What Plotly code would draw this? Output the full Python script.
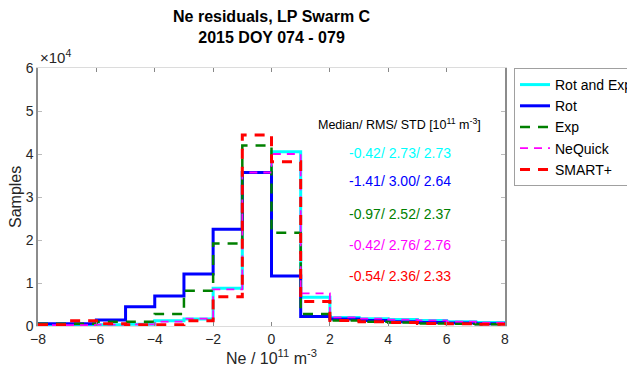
import plotly.graph_objects as go

edges = list(range(-8, 9))
rot_and_exp = [200, 200, 300, 400, 1200, 1600, 8800, 35700, 40500, 6700, 2000, 1700, 1500, 1300, 1000, 800]
rot = [500, 500, 1400, 4500, 7000, 12100, 22500, 35700, 11600, 2200, 1600, 1300, 1000, 800, 700, 500]
exp_ = [500, 500, 1000, 1000, 2800, 8200, 19200, 42000, 21700, 2800, 1300, 1000, 800, 600, 500, 400]
nequick = [200, 200, 300, 400, 1000, 1700, 8500, 35700, 40000, 7600, 2000, 1700, 1500, 1300, 1000, 800]
smart = [300, 1200, 500, 300, 300, 1200, 6800, 44400, 38200, 5700, 1300, 1000, 800, 600, 500, 400]

title_text = "<b>Ne residuals, LP Swarm C<br>2015 DOY 074 - 079</b>"
stats_header = "Median/ RMS/ STD [10<sup>11</sup> m<sup>-3</sup>]"
stats = ["-0.42/ 2.73/ 2.73", "-1.41/ 3.00/ 2.64", "-0.97/ 2.52/ 2.37", "-0.42/ 2.76/ 2.76", "-0.54/ 2.36/ 2.33"]

series = [
    ("Rot and Exp", rot_and_exp, "#00ffff", 3, "solid"),
    ("Rot", rot, "#0000ff", 3, "solid"),
    ("Exp", exp_, "#008000", 2.5, "10px,8px"),
    ("NeQuick", nequick, "#ff00ff", 1.8, "8px,6px"),
    ("SMART+", smart, "#ff0000", 3, "10px,8px"),
]

fig = go.Figure()
for name, vals, col, w, dash in series:
    fig.add_trace(go.Scatter(
        x=edges, y=vals + [vals[-1]], mode="lines", line_shape="hv",
        name=name, line=dict(color=col, width=w, dash=dash)))

# page has an 8px body margin: figure coordinates = page coordinates - 8
W, H = 627, 370
L, R, T, B = 30, 130, 60, 52
pw, ph = W - L - R, H - T - B


def py(fig_y):
    return (H - B - fig_y) / ph


font = "Liberation Sans, Arial, sans-serif"
fig.update_layout(
    width=W, height=H,
    margin=dict(l=L, r=R, t=T, b=B, autoexpand=False),
    paper_bgcolor="white", plot_bgcolor="white",
    font=dict(family=font, size=14, color="#262626"),
    showlegend=True,
    legend=dict(x=(506 - L) / pw, y=1.0, xanchor="left", yanchor="top",
                bgcolor="white", bordercolor="#a0a0a0", borderwidth=1,
                font=dict(size=14, color="black"), tracegroupgap=0,
                itemwidth=30),
)
fig.update_xaxes(range=[-8, 8], tickvals=list(range(-8, 9, 2)),
                 ticks="inside", ticklen=4, tickcolor="#888888",
                 showline=True, linecolor="#dcdcdc", linewidth=1, mirror="ticks",
                 showgrid=False, zeroline=False)
fig.update_yaxes(range=[0, 60000], tickvals=[i * 10000 for i in range(7)],
                 ticktext=[str(i) for i in range(7)],
                 ticks="inside", ticklen=4, tickcolor="#bbbbbb",
                 showline=True, linecolor="#8c8c8c", linewidth=1.5, mirror="ticks",
                 showgrid=False, zeroline=False)

# title
fig.add_annotation(xref="paper", yref="paper", x=0.5, y=py(19), xanchor="center",
                   yanchor="middle", showarrow=False, text=title_text,
                   font=dict(size=16, color="black"))
# axis titles
fig.add_annotation(xref="paper", yref="paper", x=0.5, y=py(349),
                   xanchor="center", yanchor="middle", showarrow=False,
                   text="Ne / 10<sup>11</sup> m<sup>-3</sup>", font=dict(size=16, color="#262626"))
fig.add_annotation(xref="paper", yref="paper", x=(7 - L) / pw, y=0.5,
                   xanchor="center", yanchor="middle", showarrow=False, textangle=-90,
                   text="Samples", font=dict(size=16, color="#262626"))

fig.add_annotation(xref="paper", yref="paper", x=0, y=1.0, xanchor="left", yanchor="bottom",
                   text="\u00d710<sup>4</sup>", showarrow=False, font=dict(size=15, color="#262626"))
fig.add_annotation(xref="x", yref="paper", x=4.4, y=py(116), xanchor="center",
                   yanchor="middle", text=stats_header, showarrow=False,
                   font=dict(size=12.5, color="black"))
ys = [145, 173, 206, 237, 268]
for (name, vals, col, w, dash), s, yy in zip(series, stats, ys):
    fig.add_annotation(xref="x", yref="paper", x=4.4, y=py(yy), xanchor="center",
                       yanchor="middle", text=s, showarrow=False,
                       font=dict(size=14, color=col))

fig.write_html("out.html")
